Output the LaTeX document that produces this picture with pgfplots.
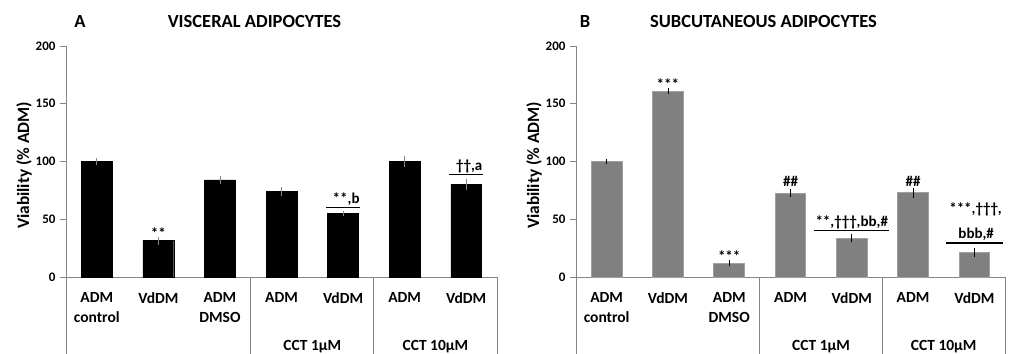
\documentclass[border=0pt]{standalone}
\usepackage{fontspec}
\setmainfont{Carlito}
\usepackage{pgfplots}
\pgfplotsset{compat=1.18}
\definecolor{axgray}{HTML}{868686}
\definecolor{bargray}{HTML}{808080}
\definecolor{baredge}{HTML}{A0A0A0}

\pgfplotstableread{
x y e
0 100 1
1 31.5 1.5
2 84 1.5
3 74 2
4 55 0.6
5 100 3.2
6 80 2.6
}\visceral

\pgfplotstableread{
x y e
0 100 0.5
1 161 0.5
2 12 0.5
3 72.5 1.6
4 33.5 1.6
5 73 2.4
6 21.2 1.6
}\subcut

\newcommand{\tfont}{\fontsize{15.5bp}{20.4bp}\selectfont\bfseries}
\newcommand{\afont}{\fontsize{15bp}{18bp}\selectfont\bfseries}

\pgfplotsset{panel/.style={
  scale only axis, height=231bp,
  ymin=0, ymax=200, xmin=-0.5, xmax=6.5,
  ytick={0,50,100,150,200}, xtick={0,1,2,3,4,5,6},
  axis x line*=bottom, axis y line*=left,
  axis line style={axgray, line width=0.9bp},
  tick align=outside, major tick length=6bp,
  x tick style={draw=none},
  y tick style={axgray, line width=0.9bp},
  /pgf/number format/assume math mode=true,
  yticklabel style={font=\fontsize{13bp}{14bp}\selectfont\bfseries, xshift=-1bp},
  xticklabels={{ADM\\control},VdDM,{ADM\\DMSO},ADM,VdDM,ADM,VdDM},
  xticklabel style={font=\tfont, align=center, anchor=north, yshift=-6bp},
  ylabel={Viability (\% ADM)},
  every axis y label/.style={at={([xshift=-42bp,yshift=-4bp]rel axis cs:0,0.5)}, rotate=90, anchor=center, font=\fontsize{17.3bp}{18bp}\selectfont\bfseries},
  clip=false,
}}

\begin{document}
\begin{tikzpicture}
\useasboundingbox (0,0) rectangle (1013bp,354bp);

% Panel A
\begin{axis}[panel, width=431bp, at={(66bp,77bp)}, anchor=south west]
\addplot[ybar, bar width=0.5, bar shift=0pt, fill=black, draw=black,
  error bars/.cd, y dir=both, y explicit,
  error bar style={axgray, line width=0.8bp},
  error mark options={axgray, mark size=2.2bp, line width=0.8bp}]
  table[x=x, y=y, y error=e] {\visceral};
\draw[axgray, line width=0.9bp] (axis cs:-0.5,0) -- ++(0pt,-77bp);
\draw[axgray, line width=0.9bp] (axis cs:2.5,0) -- ++(0pt,-77bp);
\draw[axgray, line width=0.9bp] (axis cs:4.5,0) -- ++(0pt,-77bp);
\draw[axgray, line width=0.9bp] (axis cs:6.5,0) -- ++(0pt,-77bp);
\node[font=\tfont, anchor=base] at ([yshift=-73.5bp]axis cs:3.5,0) {CCT 1µM};
\node[font=\tfont, anchor=base] at ([yshift=-73.5bp]axis cs:5.5,0) {CCT 10µM};
\node[font=\afont, anchor=base] at (axis cs:1,33) {**};
\node[font=\afont, anchor=base] at (axis cs:4.05,63.8) {**,b};
\draw[black, line width=1.4bp] (axis cs:3.72,60.3) -- (axis cs:4.28,60.3);
\node[font=\afont, anchor=base] at (axis cs:6.05,91.9) {††,a};
\draw[black, line width=1.4bp] (axis cs:5.72,89) -- (axis cs:6.28,89);
\end{axis}

% Panel B
\begin{axis}[panel, width=429bp, at={(576bp,77bp)}, anchor=south west]
\addplot[ybar, bar width=0.5, bar shift=0pt, fill=bargray, draw=baredge, line width=0.8bp,
  error bars/.cd, y dir=both, y explicit,
  error bar style={black, line width=0.8bp},
  error mark options={black, mark size=2.2bp, line width=0.8bp}]
  table[x=x, y=y, y error=e] {\subcut};
\draw[axgray, line width=0.9bp] (axis cs:-0.5,0) -- ++(0pt,-77bp);
\draw[axgray, line width=0.9bp] (axis cs:2.5,0) -- ++(0pt,-77bp);
\draw[axgray, line width=0.9bp] (axis cs:4.5,0) -- ++(0pt,-77bp);
\draw[axgray, line width=0.9bp] (axis cs:6.5,0) -- ++(0pt,-77bp);
\node[font=\tfont, anchor=base] at ([yshift=-73.5bp]axis cs:3.5,0) {CCT 1µM};
\node[font=\tfont, anchor=base] at ([yshift=-73.5bp]axis cs:5.5,0) {CCT 10µM};
\node[font=\afont, anchor=base] at (axis cs:1,162.5) {***};
\node[font=\afont, anchor=base] at (axis cs:2,13.5) {***};
\node[font=\afont, anchor=base] at (axis cs:3,78.7) {\#\#};
\node[font=\afont, anchor=base] at (axis cs:5,78.7) {\#\#};
\node[font=\afont, anchor=base] at (axis cs:4,43.6) {**,†††,bb,\#};
\draw[black, line width=1.4bp] (axis cs:3.39,40.2) -- (axis cs:4.61,40.2);
\node[font=\afont, anchor=base] at (axis cs:6.02,54.6) {***,†††,};
\node[font=\afont, anchor=base] at (axis cs:6.03,33.6) {bbb,\#};
\draw[black, line width=1.4bp] (axis cs:5.54,29.3) -- (axis cs:6.46,29.3);
\end{axis}

% Titles
\node[font=\fontsize{18.5bp}{20bp}\selectfont\bfseries, anchor=base] at (80bp,326.7bp) {A};
\node[font=\fontsize{18.5bp}{20bp}\selectfont\bfseries, anchor=base] at (254.5bp,326.7bp) {VISCERAL ADIPOCYTES};
\node[font=\fontsize{18.5bp}{20bp}\selectfont\bfseries, anchor=base] at (585bp,326.7bp) {B};
\node[font=\fontsize{18.5bp}{20bp}\selectfont\bfseries, anchor=base] at (763.5bp,326.7bp) {SUBCUTANEOUS ADIPOCYTES};
\end{tikzpicture}
\end{document}
